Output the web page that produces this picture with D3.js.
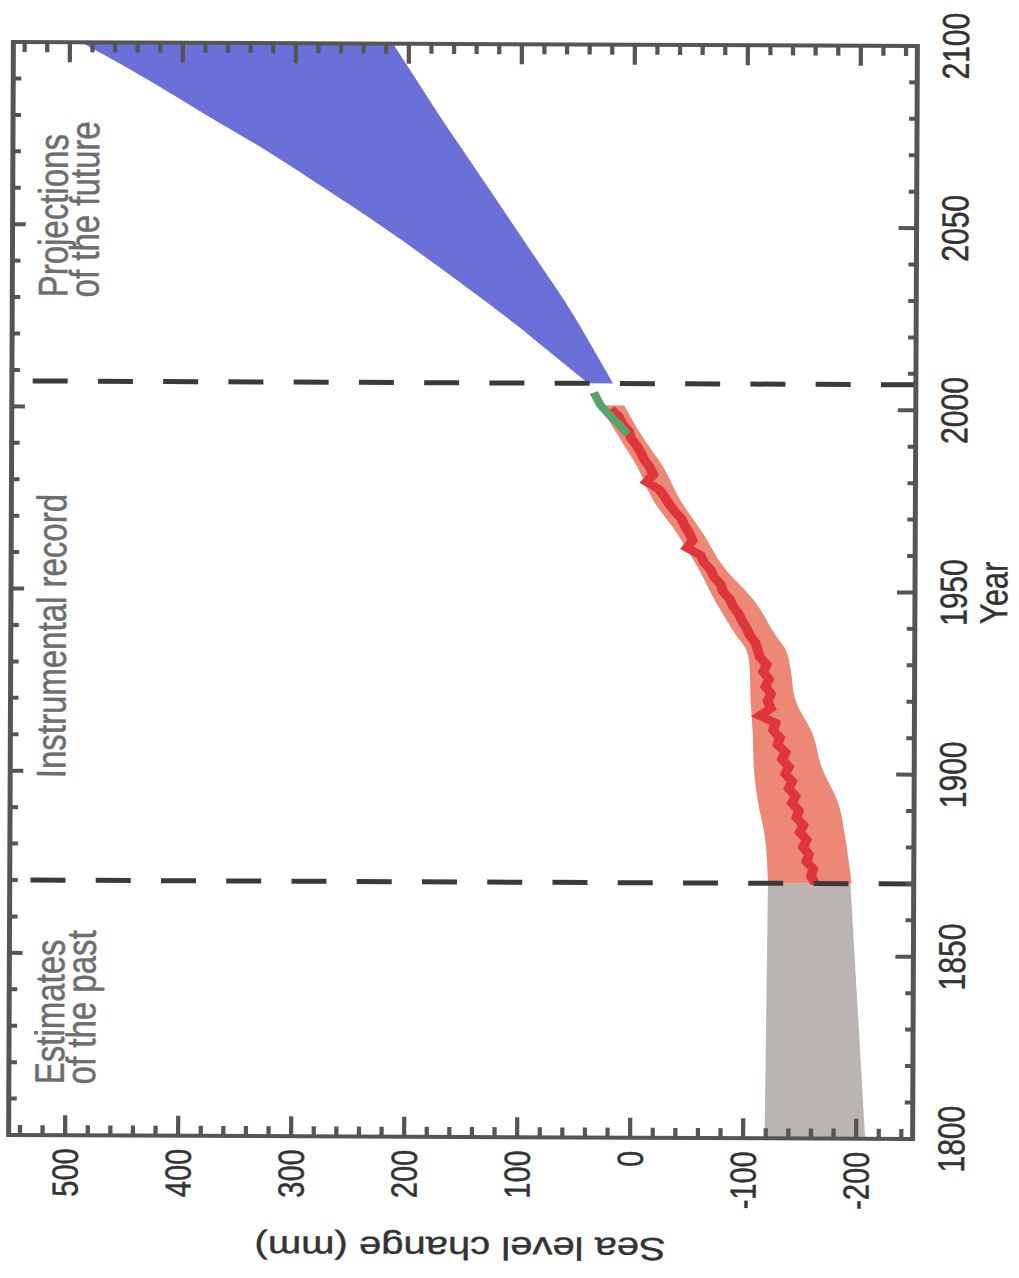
<!DOCTYPE html>
<html><head><meta charset="utf-8">
<script src="https://cdn.jsdelivr.net/npm/d3@7"></script>
<style>body{margin:0;background:#fff} svg{display:block}</style>
</head><body>
<svg id="c" width="1019" height="1278"></svg>
<script>
// ---------------- data ----------------
const pastYears  = [1800, 1870];
const pastUpper  = [-119, -121];
const pastLower  = [-208, -194];

const bandYears  = [1870, 1883, 1892, 1902, 1911, 1920, 1929, 1934, 1938, 1947, 1957, 1966, 1975, 1984, 1993, 2001];
const bandUpper  = [-121, -118, -112, -108, -107, -105, -104, -101, -92, -74, -57, -39, -18, -4, 14, 30];
const bandLower  = [-195, -189, -183, -168, -160, -145, -140, -136, -127, -109, -80, -62, -42, -27, -7, 8];

const tideYears  = [1870,1872,1874,1876,1878,1880,1882,1884,1886,1888,1890,1892,1894,1896,1898,1900,1902,1904,1906,1908,1910,1912,1914,1916,1918,1920,1922,1924,1926,1928,1930,1932,1934,1936,1938,1940,1942,1944,1946,1948,1950,1952,1954,1956,1958,1960,1962,1964,1966,1968,1970,1972,1974,1976,1978,1980,1982,1984,1986,1988,1990,1992,1994,1996,1998,2000];
const tideLevel  = [-163,-159,-161,-155,-157,-152,-155,-149,-152,-146,-148,-142,-145,-139,-142,-136,-139,-133,-136,-129,-131,-125,-127,-113,-123,-120,-123,-118,-121,-116,-119,-113,-111,-109,-104,-101,-97,-94,-89,-86,-80,-78,-72,-69,-63,-60,-48,-53,-50,-46,-43,-37,-32,-28,-23,-12,-18,-15,-10,-7,-3,2,4,10,13,20];

const satYears   = [1993, 1996, 1998, 2001, 2004.5];
const satLevel   = [5, 13, 20, 29, 35];

const projYears  = [2007, 2015, 2023, 2030, 2040, 2050, 2060, 2070, 2080, 2090, 2100];
const projUpper  = [40, 72, 104, 134, 178, 224, 273, 323, 378, 432, 490];
const projLower  = [18, 33, 48, 62, 84, 106, 128, 150, 172, 193, 214];

const dividerYears = [1870, 2007];
const yearTicks  = [1800, 1850, 1900, 1950, 2000, 2050, 2100];
const levelTicks = [-200, -100, 0, 100, 200, 300, 400, 500];
const panelText  = [
  {year: 1814, lines: ["Estimates", "of the past"]},
  {year: 1898, lines: ["Instrumental record"]},
  {year: 2030, lines: ["Projections", "of the future"]}
];
const xTitle = "Year";
const yTitle = "Sea level change (mm)";

// ---------------- chart ----------------
const W = 1093, H = 904 / 1.25;
const x = d3.scaleLinear().domain([1800, 2100]).range([0, W]);
const y = d3.scaleLinear().domain([-250, 550]).range([H, 0]);

const svg = d3.select("#c");
const g = svg.append("g")
  .attr("transform", "rotate(0.25,465,590) translate(11,1137) scale(1.25,1) rotate(-90)");

const FONT = "'Liberation Sans', Arial, Helvetica, sans-serif";
const zipBand = (ys, hi, lo) => ys.map((yr, i) => ({year: yr, hi: hi[i], lo: lo[i]}));
const area = d3.area().x(d => x(d.year)).y0(d => y(d.lo)).y1(d => y(d.hi));
const line = d3.line().x(d => x(d.year)).y(d => y(d.v));

g.append("path").datum(zipBand(pastYears, pastUpper, pastLower))
  .attr("d", area).attr("fill", "#bab5b2");
g.append("path").datum(zipBand(bandYears, bandUpper, bandLower))
  .attr("d", area.curve(d3.curveMonotoneX)).attr("fill", "#ec8875");
g.append("path").datum(tideYears.map((yr, i) => ({year: yr, v: tideLevel[i]})))
  .attr("d", line).attr("fill", "none").attr("stroke", "#e0363b")
  .attr("stroke-width", 8).attr("stroke-linejoin", "miter");
g.append("path").datum(satYears.map((yr, i) => ({year: yr, v: satLevel[i]})))
  .attr("d", line).attr("fill", "none").attr("stroke", "#55a56a")
  .attr("stroke-width", 7);
g.append("path").datum(zipBand(projYears, projUpper, projLower))
  .attr("d", d3.area().x(d => x(d.year)).y0(d => y(d.lo)).y1(d => y(d.hi)).curve(d3.curveMonotoneX))
  .attr("fill", "#6b70d9");

// dashed dividers
g.selectAll(".div").data(dividerYears).join("line")
  .attr("x1", d => x(d)).attr("x2", d => x(d))
  .attr("y1", H).attr("y2", 0)
  .attr("stroke", "#3a3a3a").attr("stroke-width", 5)
  .attr("stroke-dasharray", "28,24.2");

// frame
g.append("rect").attr("x", 0).attr("y", 0).attr("width", W).attr("height", H)
  .attr("fill", "none").attr("stroke", "#555").attr("stroke-width", 4);

const TK = "#555";
// year ticks
const yearMinor = d3.range(1800, 2101, 10);
g.selectAll(".yt").data(yearMinor).join("line")
  .attr("x1", d => x(d)).attr("x2", d => x(d))
  .attr("y1", H).attr("y2", d => H - (d % 50 === 0 ? 14.4 : 6.4))
  .attr("stroke", TK).attr("stroke-width", 4);
g.selectAll(".yt2").data(yearMinor).join("line")
  .attr("x1", d => x(d)).attr("x2", d => x(d))
  .attr("y1", 0).attr("y2", d => (d % 50 === 0 ? 10.5 : 6.4))
  .attr("stroke", TK).attr("stroke-width", 4);

// level ticks
const levelMinor = d3.range(-240, 541, 20);
g.selectAll(".lt").data(levelMinor).join("line")
  .attr("y1", d => y(d)).attr("y2", d => y(d))
  .attr("x1", 0).attr("x2", d => (d % 100 === 0 ? 20 : 10))
  .attr("stroke", TK).attr("stroke-width", 3.4);
g.selectAll(".lt2").data(levelMinor).join("line")
  .attr("y1", d => y(d)).attr("y2", d => y(d))
  .attr("x1", W).attr("x2", d => W - (d % 100 === 0 ? 20 : 10))
  .attr("stroke", TK).attr("stroke-width", 3.4);

// tick labels
g.selectAll(".yl").data(yearTicks).join("text")
  .attr("x", d => x(d)).attr("y", 754).attr("dy", "0.35em")
  .attr("text-anchor", "middle").attr("font-family", FONT).attr("font-size", 30)
  .attr("fill", "#333").attr("stroke", "#333").attr("stroke-width", 0.4).text(d => d);
g.selectAll(".ll").data(levelTicks).join("text")
  .attr("x", -13).attr("y", d => y(d)).attr("dy", "0.35em")
  .attr("text-anchor", "end").attr("font-family", FONT).attr("font-size", 29)
  .attr("fill", "#333").attr("stroke", "#333").attr("stroke-width", 0.4).text(d => String(d));

// axis titles
g.append("text").attr("x", W / 2).attr("y", 797)
  .attr("text-anchor", "middle").attr("font-family", FONT).attr("font-size", 31)
  .attr("fill", "#333").attr("stroke", "#333").attr("stroke-width", 0.4).text(xTitle);
g.append("text").attr("transform", `translate(-100,${H / 2}) rotate(-90)`)
  .attr("text-anchor", "middle").attr("font-family", FONT).attr("font-size", 32)
  .attr("fill", "#333").attr("stroke", "#333").attr("stroke-width", 0.4).text(yTitle);

// panel labels
panelText.forEach(p => {
  const t = g.append("text").attr("font-family", FONT).attr("font-size", 33)
    .attr("fill", "#6e6e6e").attr("stroke", "#6e6e6e").attr("stroke-width", 0.4);
  p.lines.forEach((ln, i) => {
    t.append("tspan").attr("x", x(p.year)).attr("y", 44 + i * 25).text(ln);
  });
});
</script>
</body></html>
